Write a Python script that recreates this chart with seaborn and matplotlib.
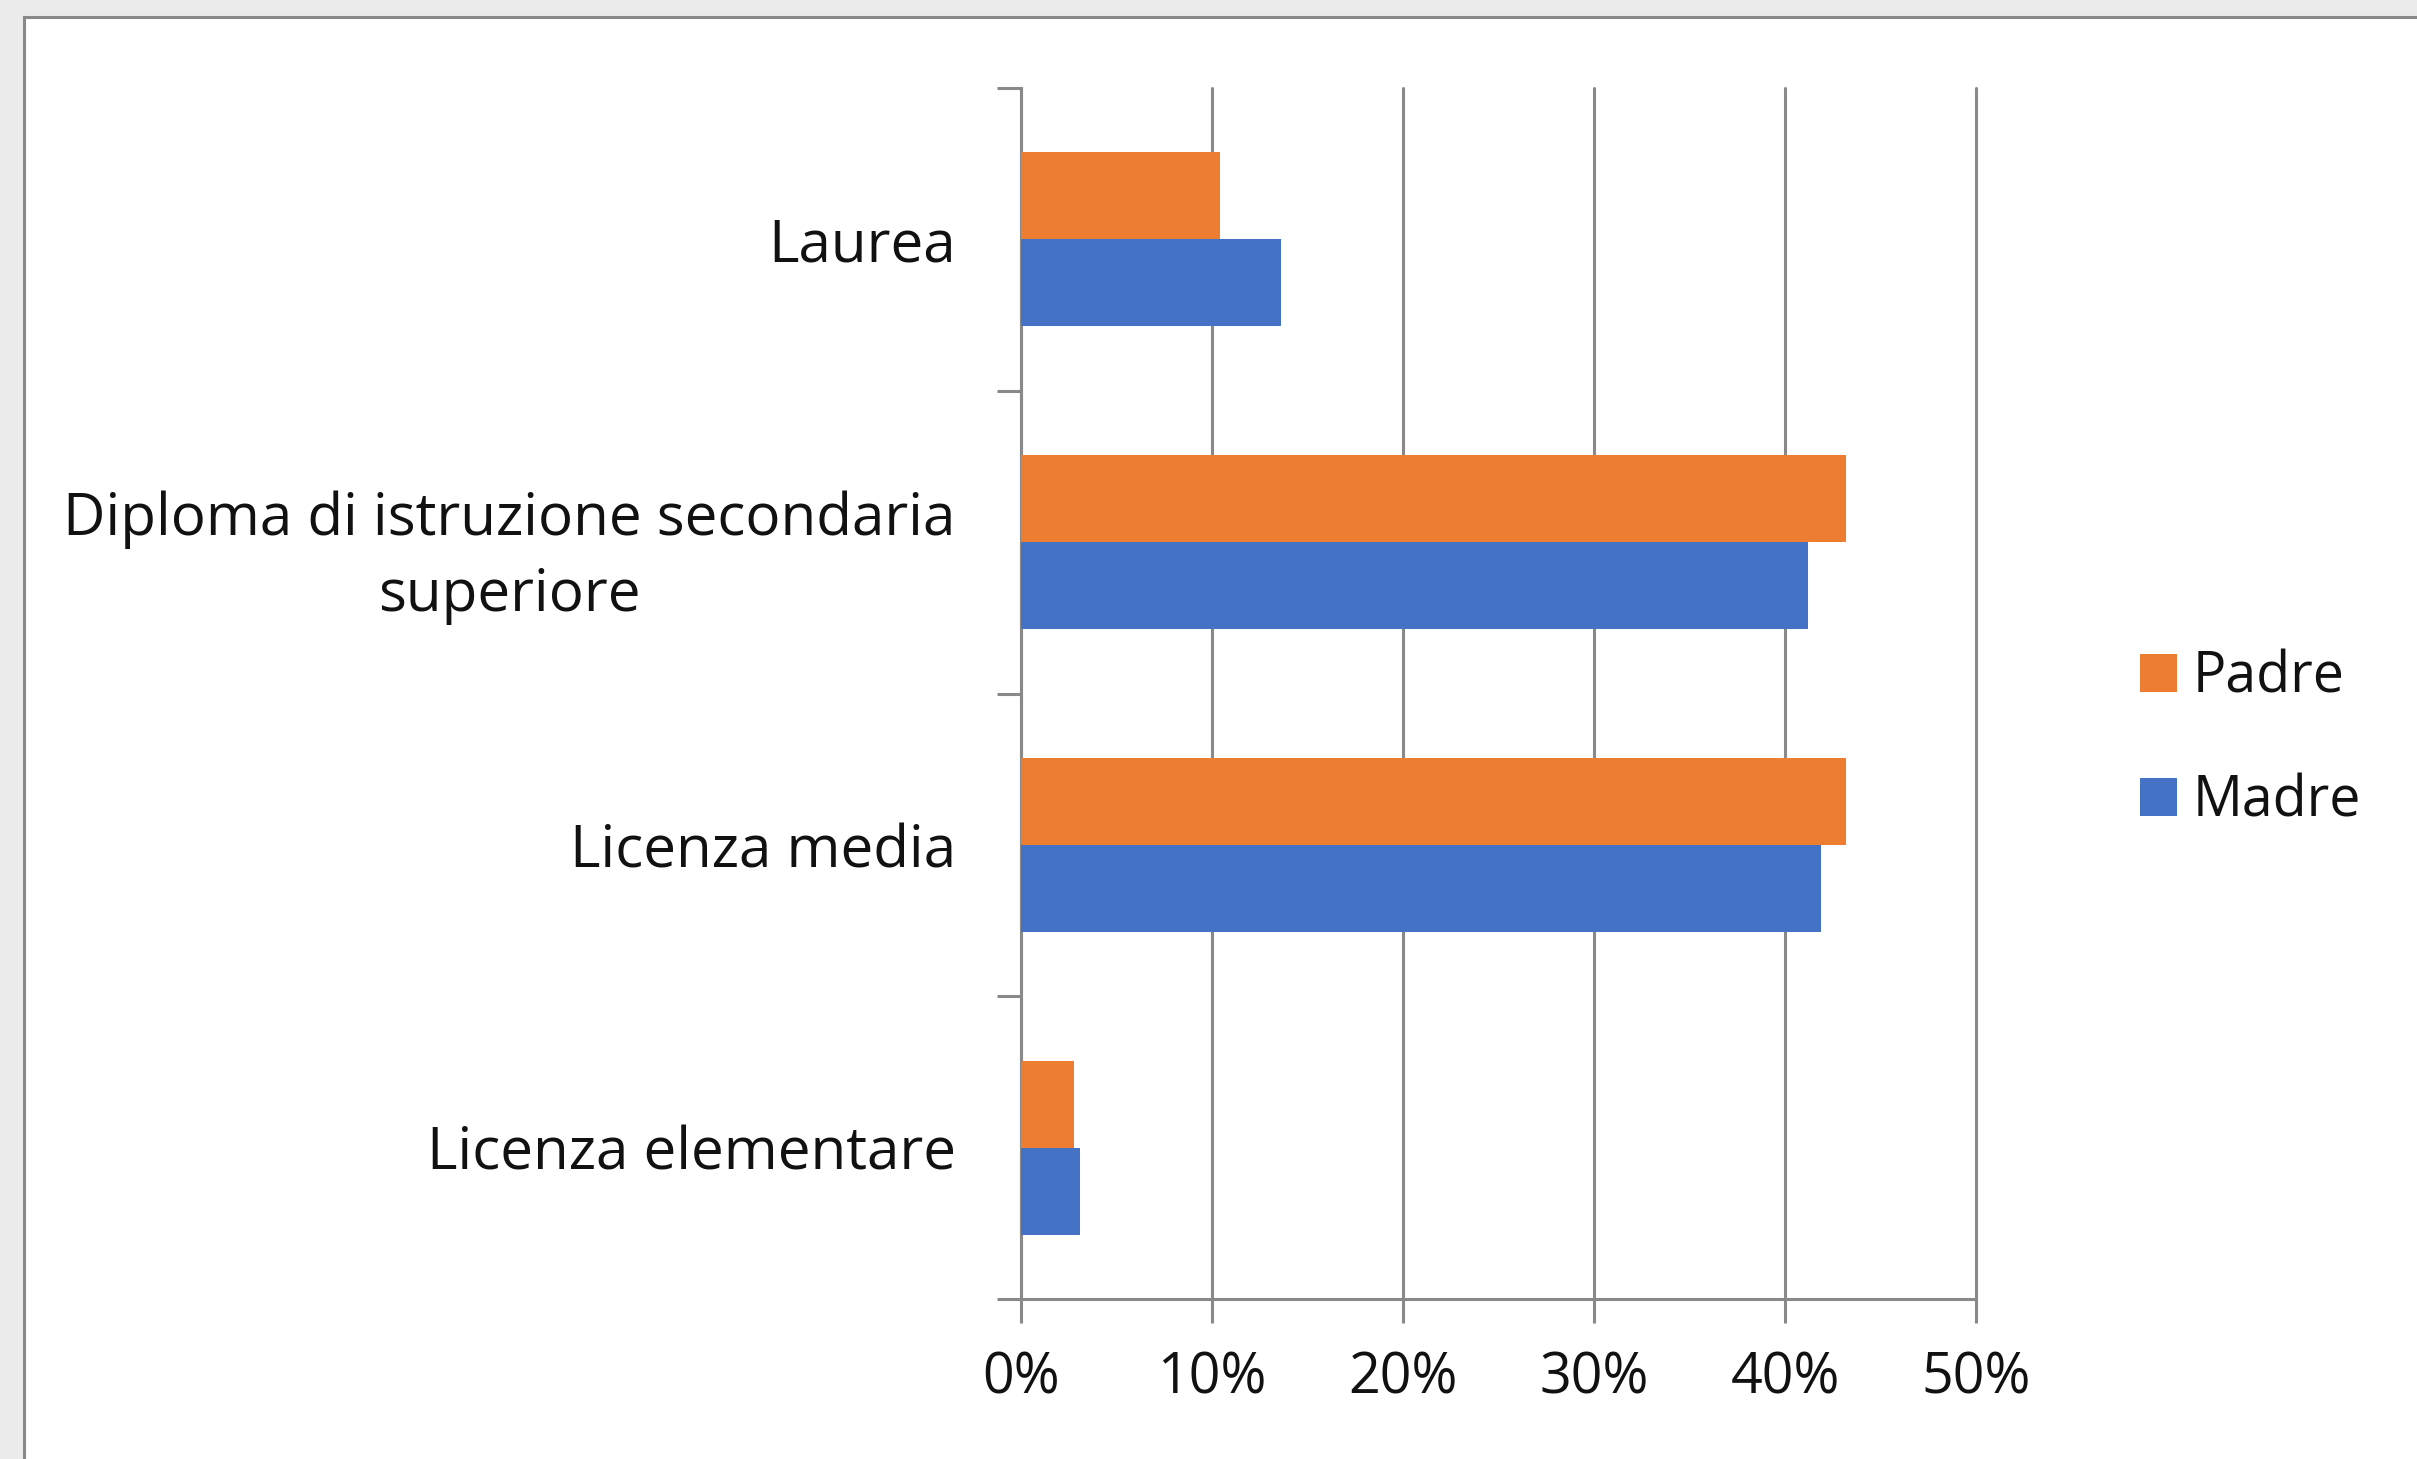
import pandas as pd
import seaborn as sns
import matplotlib.pyplot as plt
from matplotlib.patches import Rectangle
from matplotlib.ticker import FuncFormatter, MultipleLocator, FixedLocator

# values (share of respondents, %)
livelli = [
    "Laurea",
    "Diploma di istruzione secondaria\nsuperiore",
    "Licenza media",
    "Licenza elementare",
]
padre = [10.4, 43.2, 43.2, 2.8]
madre = [13.6, 41.2, 41.9, 3.1]
genitori = ["Padre", "Madre"]
colori = ["#ed7d31", "#4472c4"]

df = pd.DataFrame({
    "livello": livelli * 2,
    "valore": padre + madre,
    "genitore": ["Padre"] * len(livelli) + ["Madre"] * len(livelli),
})

sns.set_theme(style="white")
plt.rcParams["font.family"] = ["Open Sans", "DejaVu Sans"]

W, H = 2417, 1459
FS = 40
fig = plt.figure(figsize=(W / 100, H / 100), dpi=100, facecolor="#ebebeb")

# white chart area with grey frame (left/top edges visible)
fig.patches.append(Rectangle((23.5 / W, -0.1), 1.2, 1 - 16.5 / H + 0.1,
                             transform=fig.transFigure, facecolor="white",
                             edgecolor="#898989", linewidth=2.2, zorder=-10))

ax = fig.add_axes([1021 / W, 1 - 1299 / H, 955 / W, 1211 / H])
ax.set_facecolor("none")

sns.barplot(data=df, y="livello", x="valore", hue="genitore", hue_order=genitori,
            palette=colori, orient="h", width=0.575, saturation=1,
            edgecolor="none", linewidth=0, ax=ax, zorder=3)

ax.set_xlim(0, 50)
ax.set_ylim(3.5, -0.5)
ax.xaxis.set_major_locator(MultipleLocator(10))
ax.xaxis.set_major_formatter(FuncFormatter(lambda v, p: f"{v:.0f}%"))
ax.grid(axis="x", color="#898989", linewidth=2.2, zorder=0)
ax.set_axisbelow(True)
for gl in ax.get_xgridlines():
    gl.set_clip_on(False)

grey = "#898989"
for s in ["top", "right"]:
    ax.spines[s].set_visible(False)
for s in ["left", "bottom"]:
    ax.spines[s].set_color(grey)
    ax.spines[s].set_linewidth(2.2)

# y ticks: labels at centers, tick marks at category boundaries
ax.yaxis.set_minor_locator(FixedLocator([-0.5, 0.5, 1.5, 2.5, 3.5]))
ax.tick_params(axis="y", which="major", length=0, pad=47, labelsize=42,
               labelcolor="#111111")
ax.tick_params(axis="y", which="minor", left=True, length=17, width=2.2, color=grey)
ax.tick_params(axis="x", which="major", bottom=True, length=17, width=2.2, color=grey,
               pad=20, labelsize=FS, labelcolor="#111111")
for t in ax.get_yticklabels():
    t.set_multialignment("center")
    t.set_linespacing(1.38)

ax.set_xlabel("")
ax.set_ylabel("")

leg = ax.legend(loc="center left", bbox_to_anchor=(1.1717, 0.4616), frameon=False,
                fontsize=FS, handlelength=0.67, handleheight=0.67,
                handletextpad=0.27, labelspacing=1.2, borderpad=0, borderaxespad=0)
for txt in leg.get_texts():
    txt.set_color("#111111")

fig.savefig("out.png", dpi=100, facecolor=fig.get_facecolor())
